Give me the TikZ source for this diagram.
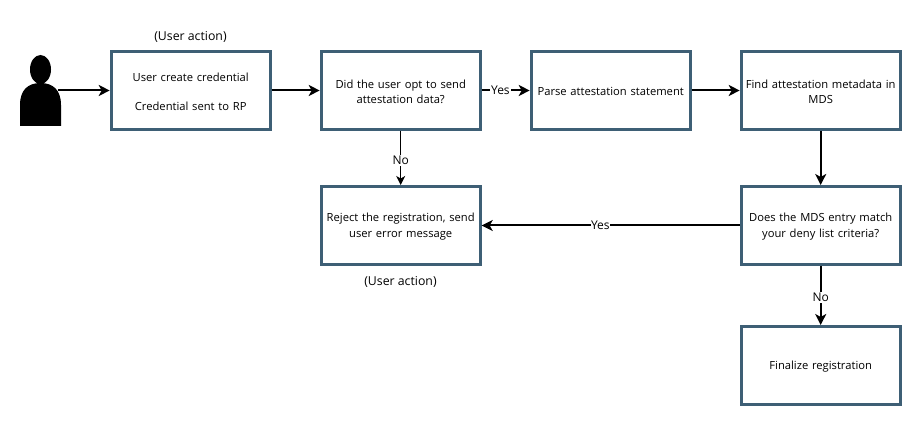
\documentclass[tikz,border=0pt]{standalone}
\usepackage{fontspec}
\setmainfont{Open Sans}
\usetikzlibrary{arrows.meta}
\definecolor{boxc}{HTML}{3E5F75}
\tikzset{
  x=1pt,y=-1pt,
  flow/.style={draw=boxc,line width=3pt,fill=white,minimum width=159pt,minimum height=78pt,inner sep=2pt,anchor=north west},
  flowtext/.style={align=center,text width=155pt,inner sep=0pt,yshift=-1.3pt,font=\fontsize{11.2}{15.5}\selectfont},
  conn/.style={draw=black,line width=2pt,-{Stealth[length=11pt,width=11pt,inset=3pt]}},
  thin conn/.style={draw=black,line width=1pt,-{Stealth[length=9pt,width=9pt,inset=2.5pt]}},
  lab/.style={fill=white,inner sep=1pt,font=\fontsize{12}{14}\selectfont},
  cap text/.style={inner sep=0pt,font=\fontsize{12.3}{14}\selectfont}
}
\begin{document}
\begin{tikzpicture}
\useasboundingbox (0,0) rectangle (922,427);
\fill[white] (0,0) rectangle (922,427);
% person
\fill[black] (40.5,69.5) ellipse [x radius=10.5,y radius=14.5];
\fill[black] (20,126) -- (20,105) .. controls (20,90) and (28,83) .. (40.5,83) .. controls (53,83) and (61,90) .. (61,105) -- (61,126) -- cycle;
\coordinate (person) at (58,90.5);
\node[flow] (a) at (109.7,50) {};
\node[flowtext] (at) at (a.center) {User create credential\\[13pt]Credential sent to RP};
\node[flow] (b) at (319.7,50) {};
\node[flowtext] (bt) at (b.center) {Did the user opt to send\\attestation data?};
\node[flow] (c) at (529.7,50) {};
\node[flowtext] (ct) at (c.center) {Parse attestation statement};
\node[flow] (d) at (739.7,50) {};
\node[flowtext] (dt) at (d.center) {Find attestation metadata in\\MDS};
\node[flow] (e) at (739.7,185) {};
\node[flowtext] (et) at (e.center) {Does the MDS entry match\\your deny list criteria?};
\node[flow] (f) at (739.7,325) {};
\node[flowtext] (ft) at (f.center) {Finalize registration};
\node[flow] (g) at (319.7,185) {};
\node[flowtext] (gt) at (g.center) {Reject the registration, send\\user error message};
\node[cap text] (t1) at (190.5,36.5) {(User action)};
\node[cap text] (t2) at (400.5,281.5) {(User action)};
\draw[conn] (person) -- (a.west);
\draw[conn] (a.east) -- (b.west);
\draw[conn] (b.east) -- node[lab,pos=.39] {Yes} (c.west);
\draw[conn] (c.east) -- (d.west);
\draw[conn] (d.south) -- (e.north);
\draw[thin conn] (b.south) -- node[lab,pos=.55] {No} (g.north);
\draw[conn] (e.west) -- node[lab,pos=.54,inner sep=0.5pt] {Yes} (g.east);
\draw[conn] (e.south) -- node[lab,pos=.53] {No} (f.north);
\end{tikzpicture}
\end{document}
